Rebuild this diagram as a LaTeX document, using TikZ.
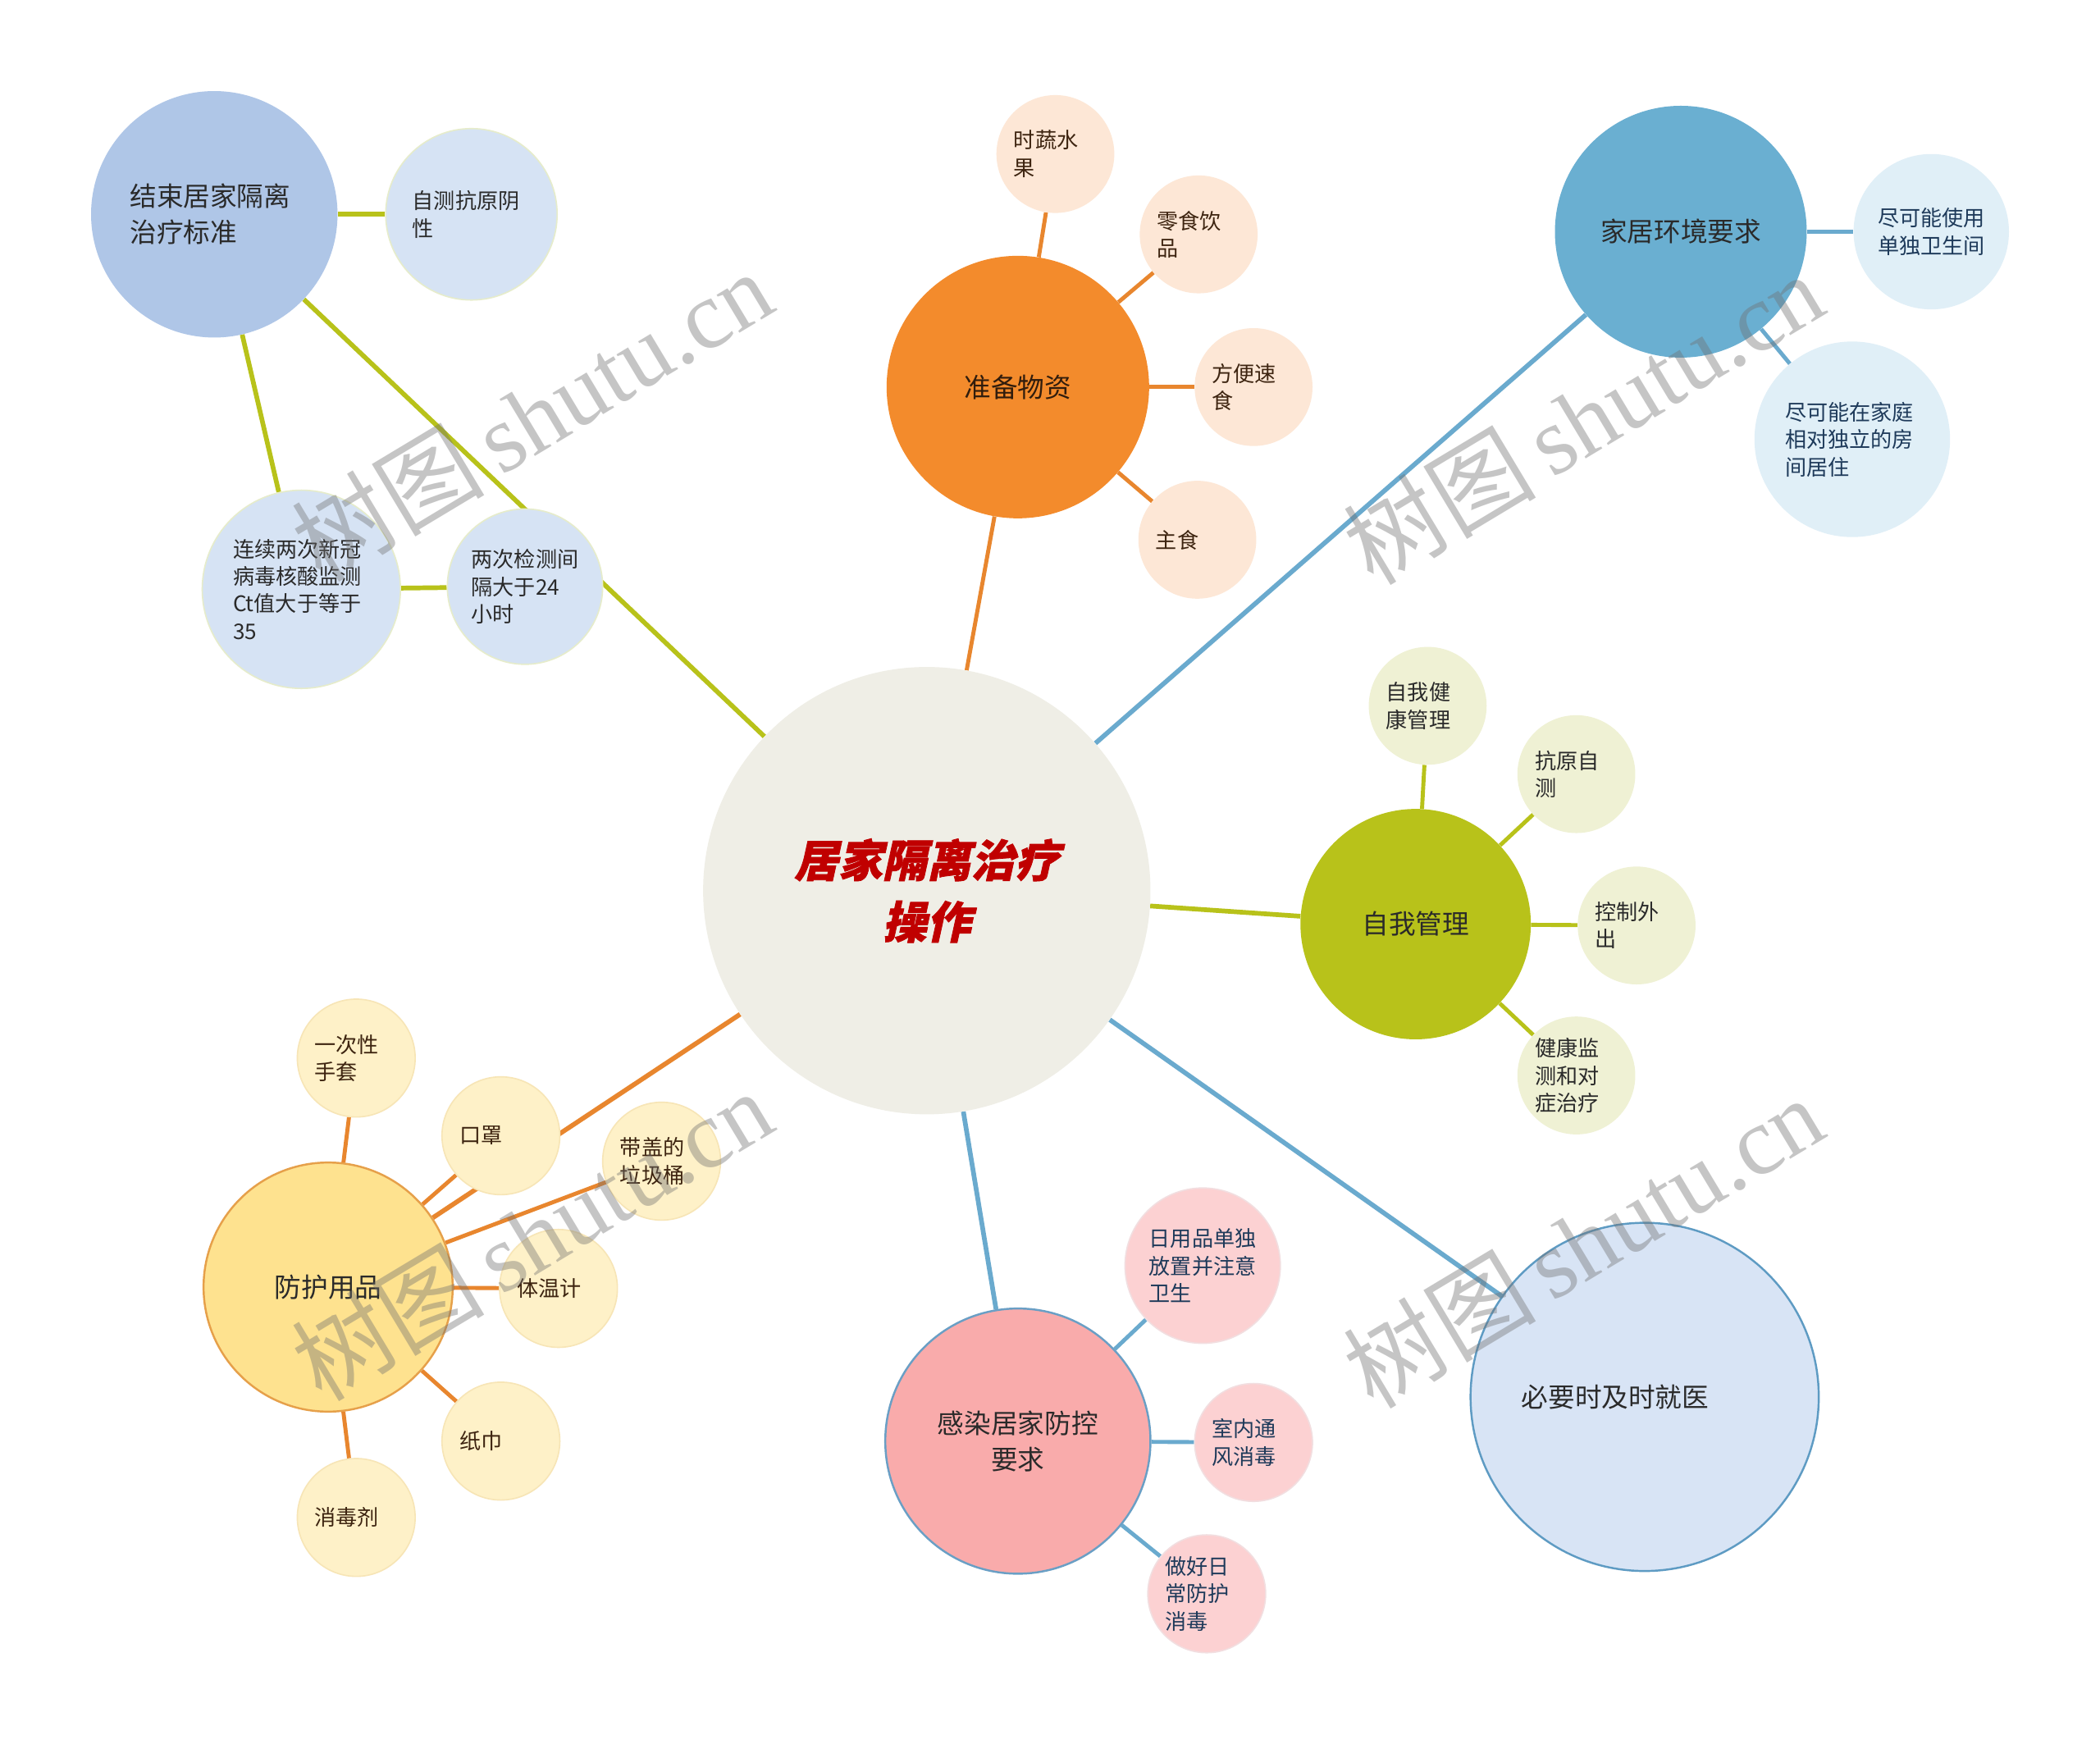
\documentclass[tikz,border=0pt]{standalone}
\usepackage{fontspec}
\newfontfamily\cjk{Noto Sans CJK SC}
\newfontfamily\cjktitle{Noto Sans CJK SC}[FakeSlant=0.22, FakeBold=1.4]
\newfontfamily\wmfont{Liberation Serif}
\usetikzlibrary{backgrounds}
\definecolor{cCenter}{HTML}{EFEEE6}
\definecolor{cTitle}{HTML}{C00000}
\definecolor{cOlive}{HTML}{B8C21A}
\definecolor{cOrange}{HTML}{E8862E}
\definecolor{cBlue}{HTML}{6AAACE}
\definecolor{cJS}{HTML}{AFC6E7}
\definecolor{cJSsub}{HTML}{D6E3F4}
\definecolor{cJSbd}{HTML}{E6ECCB}
\definecolor{cZB}{HTML}{F38B2C}
\definecolor{cZBsub}{HTML}{FDE7D6}
\definecolor{cJJ}{HTML}{6AAFD1}
\definecolor{cJJsub}{HTML}{E0EFF7}
\definecolor{cZW}{HTML}{B8C21A}
\definecolor{cZWsub}{HTML}{EFF1D4}
\definecolor{cFH}{HTML}{FEE28F}
\definecolor{cFHbd}{HTML}{E6A04A}
\definecolor{cFHsub}{HTML}{FEF1C8}
\definecolor{cFHsubbd}{HTML}{F7E5B6}
\definecolor{cGR}{HTML}{F9ABAB}
\definecolor{cGRbd}{HTML}{6A9FC5}
\definecolor{cGRsub}{HTML}{FCD1D2}
\definecolor{cGRsubbd}{HTML}{F2DEE0}
\definecolor{cBY}{HTML}{D8E4F5}
\definecolor{cBYbd}{HTML}{5E9BC3}
\definecolor{cTxt}{HTML}{2A2A2A}
\definecolor{cTxtBrown}{HTML}{3D2410}
\definecolor{cTxtNavy}{HTML}{1E3A5A}
\definecolor{cWM}{HTML}{707070}
\tikzset{
  bubble/.style={circle, inner sep=0pt, align=left},
  mainb/.style={bubble, font=\cjk\fontsize{20}{27}\selectfont, text=cTxt},
  subb/.style={bubble, font=\cjk\fontsize{16}{20.5}\selectfont, text=cTxt},
  small/.style={subb, minimum size=88, text width=62},
  mid/.style={subb, text width=80},
  lnOlive/.style={draw=cOlive, line width=3.5},
  lnOrange/.style={draw=cOrange, line width=3},
  lnBlue/.style={draw=cBlue, line width=3.5},
  wm/.style={font=\fontsize{72}{72}\selectfont, text=cWM, opacity=0.4, rotate=31, inner sep=0}
}
\begin{document}
\begin{tikzpicture}[x=1pt, y=-1pt]
\useasboundingbox (0,0) rectangle (1568,1301.6);

% centre
\node[bubble, fill=cCenter, minimum size=334, align=center, text=cTitle,
      font=\cjktitle\bfseries\fontsize{33}{46}\selectfont] (C) at (692,665) {居家隔离治疗\\操作};

% 结束居家隔离治疗标准
\node[mainb, fill=cJS, minimum size=184, text width=126] (JS) at (160,160) {结束居家隔离\\治疗标准};
\node[subb, fill=cJSsub, draw=cJSbd, line width=1, minimum size=128, text width=88] (JS1) at (352,160) {自测抗原阴\\性};
\node[subb, fill=cJSsub, draw=cJSbd, line width=1, minimum size=148, text width=102] (JS2) at (225,440) {连续两次新冠\\病毒核酸监测\\Ct值大于等于\\35};
\node[mid, fill=cJSsub, draw=cJSbd, line width=1, minimum size=116] (JS3) at (392,438) {两次检测间\\隔大于24\\小时};

% 准备物资
\node[mainb, fill=cZB, minimum size=196, align=center, text=cTxtBrown!80!black] (ZB) at (760,289) {准备物资};
\node[small, fill=cZBsub, text=cTxtBrown] (ZB1) at (788,115) {时蔬水\\果};
\node[small, fill=cZBsub, text=cTxtBrown] (ZB2) at (895,175) {零食饮\\品};
\node[small, fill=cZBsub, text=cTxtBrown] (ZB3) at (936,289) {方便速\\食};
\node[small, fill=cZBsub, text=cTxtBrown] (ZB4) at (894,403) {主食};

% 家居环境要求
\node[mainb, fill=cJJ, minimum size=188, align=center, text=cTxt] (JJ) at (1255,173) {家居环境要求};
\node[mid, fill=cJJsub, minimum size=116, text=cTxtNavy] (JJ1) at (1442,173) {尽可能使用\\单独卫生间};
\node[subb, fill=cJJsub, minimum size=146, text width=100, text=cTxtNavy] (JJ2) at (1383,328) {尽可能在家庭\\相对独立的房\\间居住};

% 自我管理
\node[mainb, fill=cZW, minimum size=172, align=center] (ZW) at (1057,690) {自我管理};
\node[small, fill=cZWsub] (ZW1) at (1066,527) {自我健\\康管理};
\node[small, fill=cZWsub] (ZW2) at (1177,578) {抗原自\\测};
\node[small, fill=cZWsub] (ZW3) at (1222,691) {控制外\\出};
\node[small, fill=cZWsub] (ZW4) at (1177,803) {健康监\\测和对\\症治疗};

% 防护用品
\node[mainb, fill=cFH, draw=cFHbd, line width=1.5, minimum size=186, align=center] (FH) at (245,961) {防护用品};
\node[small, fill=cFHsub, draw=cFHsubbd, line width=1, text=cTxtBrown] (FH1) at (266,790) {一次性\\手套};
\node[small, fill=cFHsub, draw=cFHsubbd, line width=1, text=cTxtBrown] (FH2) at (374,848) {口罩};
\node[small, fill=cFHsub, draw=cFHsubbd, line width=1, text=cTxtBrown] (FH3) at (494,867) {带盖的\\垃圾桶};
\node[small, fill=cFHsub, draw=cFHsubbd, line width=1, text=cTxtBrown] (FH4) at (417,962) {体温计};
\node[small, fill=cFHsub, draw=cFHsubbd, line width=1, text=cTxtBrown] (FH5) at (374,1076) {纸巾};
\node[small, fill=cFHsub, draw=cFHsubbd, line width=1, text=cTxtBrown] (FH6) at (266,1133) {消毒剂};

% 感染居家防控要求
\node[mainb, fill=cGR, draw=cGRbd, line width=1.5, minimum size=198, align=center] (GR) at (760,1076) {感染居家防控\\要求};
\node[mid, fill=cGRsub, draw=cGRsubbd, line width=1, minimum size=116, text=cTxtNavy] (GR1) at (898,945) {日用品单独\\放置并注意\\卫生};
\node[small, fill=cGRsub, draw=cGRsubbd, line width=1, text=cTxtNavy] (GR2) at (936,1077) {室内通\\风消毒};
\node[small, fill=cGRsub, draw=cGRsubbd, line width=1, text=cTxtNavy] (GR3) at (901,1190) {做好日\\常防护\\消毒};

% 必要时及时就医
\node[mainb, fill=cBY, draw=cBYbd, line width=1.5, minimum size=260, text width=184] (BY) at (1228,1043) {必要时及时就医};

\begin{scope}[on background layer]
  \fill[white] (0,0) rectangle (1568,1301.6);
  \draw[lnOlive] (C) -- (JS);
  \draw[lnOlive] (JS) -- (JS1);
  \draw[lnOlive] (JS) -- (JS2);
  \draw[lnOlive] (JS2) -- (JS3);
  \draw[lnOrange] (C) -- (ZB);
  \foreach \n in {ZB1,ZB2,ZB3,ZB4} \draw[lnOrange] (ZB) -- (\n);
  \draw[lnBlue] (C) -- (JJ);
  \draw[lnBlue, line width=3] (JJ) -- (JJ1);
  \draw[lnBlue, line width=3] (JJ) -- (JJ2);
  \draw[lnOlive] (C) -- (ZW);
  \foreach \n in {ZW1,ZW2,ZW3,ZW4} \draw[lnOlive, line width=3] (ZW) -- (\n);
  \draw[lnOrange, line width=3.5] (C) -- (FH);
  \foreach \n in {FH1,FH2,FH3,FH4,FH5,FH6} \draw[lnOrange] (FH) -- (\n);
  \draw[lnBlue] (C) -- (GR);
  \foreach \n in {GR1,GR2,GR3} \draw[lnBlue, line width=3] (GR) -- (\n);
  \draw[lnBlue] (C) -- (BY);
\end{scope}

% watermarks
\node[wm] (W1) at (397,310) {\cjk 树图\,\wmfont shutu.cn};
\node[wm] (W2) at (1182,312) {\cjk 树图\,\wmfont shutu.cn};
\node[wm] (W3) at (397,922) {\cjk 树图\,\wmfont shutu.cn};
\node[wm] (W4) at (1182,927) {\cjk 树图\,\wmfont shutu.cn};
\end{tikzpicture}
\end{document}
